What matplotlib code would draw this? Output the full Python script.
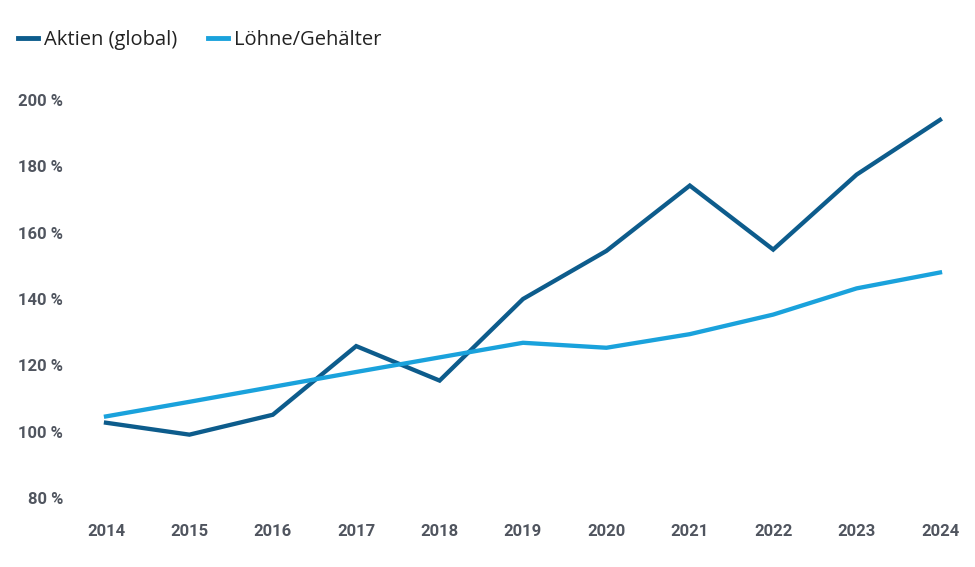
import matplotlib
matplotlib.use("Agg")
import matplotlib.pyplot as plt
from matplotlib.lines import Line2D

years = [2014, 2015, 2016, 2017, 2018, 2019, 2020, 2021, 2022, 2023, 2024]
aktien = [102.7, 99.1, 105.1, 125.8, 115.4, 140.0, 154.5, 174.2, 154.9, 177.5, 194.0]
loehne = [104.6, 109.0, 113.5, 118.0, 122.4, 126.8, 125.3, 129.4, 135.3, 143.2, 148.0]
yticks = [80, 100, 120, 140, 160, 180, 200]
series_names = ["Aktien (global)", "Löhne/Gehälter"]
colors = ["#0d5c8c", "#1aa2dc"]

W, H = 975, 567
fig = plt.figure(figsize=(W / 100, H / 100), dpi=100)
ax = fig.add_axes([106 / W, (H - 498) / H, (940 - 106) / W, (498 - 100) / H])

ax.plot(years, aktien, color=colors[0], lw=3.1, solid_joinstyle="miter", clip_on=False)
ax.plot(years, loehne, color=colors[1], lw=3.1, solid_joinstyle="miter", clip_on=False)

ax.set_xlim(2014, 2024)
ax.set_ylim(80, 200)
ax.set_xticks(years)
ax.set_xticklabels([str(y) for y in years])
ax.set_yticks(yticks)
ax.set_yticklabels([f"{v} %" for v in yticks])
for s in ax.spines.values():
    s.set_visible(False)
ax.tick_params(axis="both", length=0, colors="#50555f")
ax.tick_params(axis="y", pad=31)
ax.tick_params(axis="x", pad=19)
for lab in ax.get_xticklabels() + ax.get_yticklabels():
    lab.set_fontfamily("Roboto")
    lab.set_fontweight("bold")
    lab.set_fontsize(12)
    lab.set_color("#50555f")

handles = [Line2D([0], [0], color=c, lw=3.5) for c in colors]
leg = fig.legend(handles, series_names, loc="upper left", bbox_to_anchor=(0 / W, 1 - 12 / H),
                 ncol=2, frameon=False, handlelength=1.0, handletextpad=0.3, columnspacing=1.5,
                 prop={"family": "Open Sans", "size": 14.5})
for t in leg.get_texts():
    t.set_color("#222222")

fig.savefig("out.png", dpi=100)
